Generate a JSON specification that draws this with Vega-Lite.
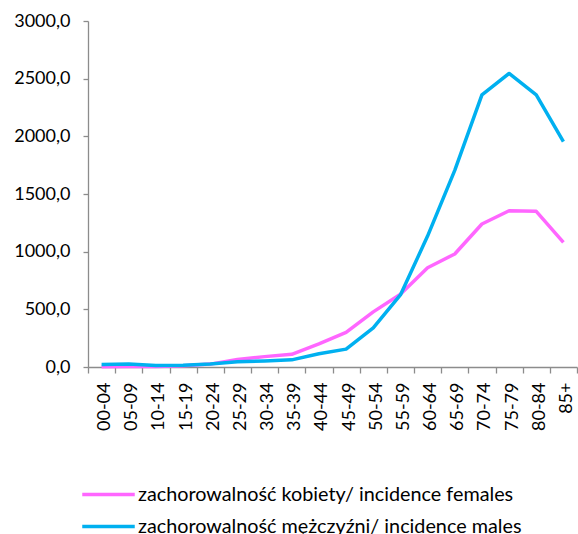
{
  "$schema": "https://vega.github.io/schema/vega-lite/v6.json",
  "width": 489,
  "height": 346,
  "autosize": {"type": "none"},
  "padding": {"left": 88, "top": 21, "right": 1, "bottom": 167},
  "background": "white",
  "config": {
    "font": "Lato",
    "view": {"stroke": null},
    "axis": {
      "domainColor": "#8c8c8c",
      "domainWidth": 1.3,
      "tickColor": "#8c8c8c",
      "tickWidth": 1.3,
      "labelColor": "#000000",
      "labelFont": "Lato",
      "labelFontSize": 18,
      "grid": false,
      "title": null
    }
  },
  "data": {
    "values": [
      {"age": "00-04", "series": "zachorowalność kobiety/ incidence females", "value": 3},
      {"age": "05-09", "series": "zachorowalność kobiety/ incidence females", "value": 4},
      {"age": "10-14", "series": "zachorowalność kobiety/ incidence females", "value": 5},
      {"age": "15-19", "series": "zachorowalność kobiety/ incidence females", "value": 10},
      {"age": "20-24", "series": "zachorowalność kobiety/ incidence females", "value": 25},
      {"age": "25-29", "series": "zachorowalność kobiety/ incidence females", "value": 65},
      {"age": "30-34", "series": "zachorowalność kobiety/ incidence females", "value": 90},
      {"age": "35-39", "series": "zachorowalność kobiety/ incidence females", "value": 110},
      {"age": "40-44", "series": "zachorowalność kobiety/ incidence females", "value": 200},
      {"age": "45-49", "series": "zachorowalność kobiety/ incidence females", "value": 300},
      {"age": "50-54", "series": "zachorowalność kobiety/ incidence females", "value": 478},
      {"age": "55-59", "series": "zachorowalność kobiety/ incidence females", "value": 630},
      {"age": "60-64", "series": "zachorowalność kobiety/ incidence females", "value": 860},
      {"age": "65-69", "series": "zachorowalność kobiety/ incidence females", "value": 980},
      {"age": "70-74", "series": "zachorowalność kobiety/ incidence females", "value": 1240},
      {"age": "75-79", "series": "zachorowalność kobiety/ incidence females", "value": 1355},
      {"age": "80-84", "series": "zachorowalność kobiety/ incidence females", "value": 1350},
      {"age": "85+", "series": "zachorowalność kobiety/ incidence females", "value": 1080},
      {"age": "00-04", "series": "zachorowalność mężczyźni/ incidence males", "value": 22},
      {"age": "05-09", "series": "zachorowalność mężczyźni/ incidence males", "value": 25},
      {"age": "10-14", "series": "zachorowalność mężczyźni/ incidence males", "value": 12},
      {"age": "15-19", "series": "zachorowalność mężczyźni/ incidence males", "value": 15},
      {"age": "20-24", "series": "zachorowalność mężczyźni/ incidence males", "value": 25},
      {"age": "25-29", "series": "zachorowalność mężczyźni/ incidence males", "value": 45},
      {"age": "30-34", "series": "zachorowalność mężczyźni/ incidence males", "value": 52},
      {"age": "35-39", "series": "zachorowalność mężczyźni/ incidence males", "value": 62},
      {"age": "40-44", "series": "zachorowalność mężczyźni/ incidence males", "value": 115},
      {"age": "45-49", "series": "zachorowalność mężczyźni/ incidence males", "value": 155},
      {"age": "50-54", "series": "zachorowalność mężczyźni/ incidence males", "value": 340},
      {"age": "55-59", "series": "zachorowalność mężczyźni/ incidence males", "value": 625},
      {"age": "60-64", "series": "zachorowalność mężczyźni/ incidence males", "value": 1135},
      {"age": "65-69", "series": "zachorowalność mężczyźni/ incidence males", "value": 1705},
      {"age": "70-74", "series": "zachorowalność mężczyźni/ incidence males", "value": 2360},
      {"age": "75-79", "series": "zachorowalność mężczyźni/ incidence males", "value": 2545},
      {"age": "80-84", "series": "zachorowalność mężczyźni/ incidence males", "value": 2360},
      {"age": "85+", "series": "zachorowalność mężczyźni/ incidence males", "value": 1955}
    ]
  },
  "mark": {"type": "line", "strokeWidth": 3.5, "strokeJoin": "round"},
  "encoding": {
    "x": {
      "field": "age",
      "type": "ordinal",
      "sort": null,
      "bandPosition": 0.5,
      "scale": {"type": "band", "paddingInner": 0, "paddingOuter": 0},
      "axis": {
        "labelAngle": 270,
        "labelAlign": "right",
        "labelBaseline": "middle",
        "labelOffset": 3,
        "tickBand": "extent",
        "tickSize": 6,
        "labelPadding": 9
      }
    },
    "y": {
      "field": "value",
      "type": "quantitative",
      "scale": {"domain": [0, 3000], "nice": false},
      "axis": {
        "values": [0, 500, 1000, 1500, 2000, 2500, 3000],
        "labelExpr": "replace(format(datum.value, '.1f'), '.', ',')",
        "tickSize": 5,
        "labelPadding": 13
      }
    },
    "color": {
      "field": "series",
      "type": "nominal",
      "scale": {
        "domain": ["zachorowalność kobiety/ incidence females", "zachorowalność mężczyźni/ incidence males"],
        "range": ["#FF66FF", "#00B0F0"]
      },
      "legend": {
        "orient": "none",
        "legendX": 8,
        "legendY": 461,
        "title": null,
        "padding": 0,
        "direction": "vertical",
        "symbolType": "M-2.5,0H2.5",
        "symbolSize": 441,
        "symbolStrokeWidth": 3.5,
        "labelFontSize": 19.8,
        "labelFont": "Lato",
        "labelColor": "#000000",
        "labelOffset": 17,
        "labelLimit": 600,
        "rowPadding": 9
      }
    }
  }
}
